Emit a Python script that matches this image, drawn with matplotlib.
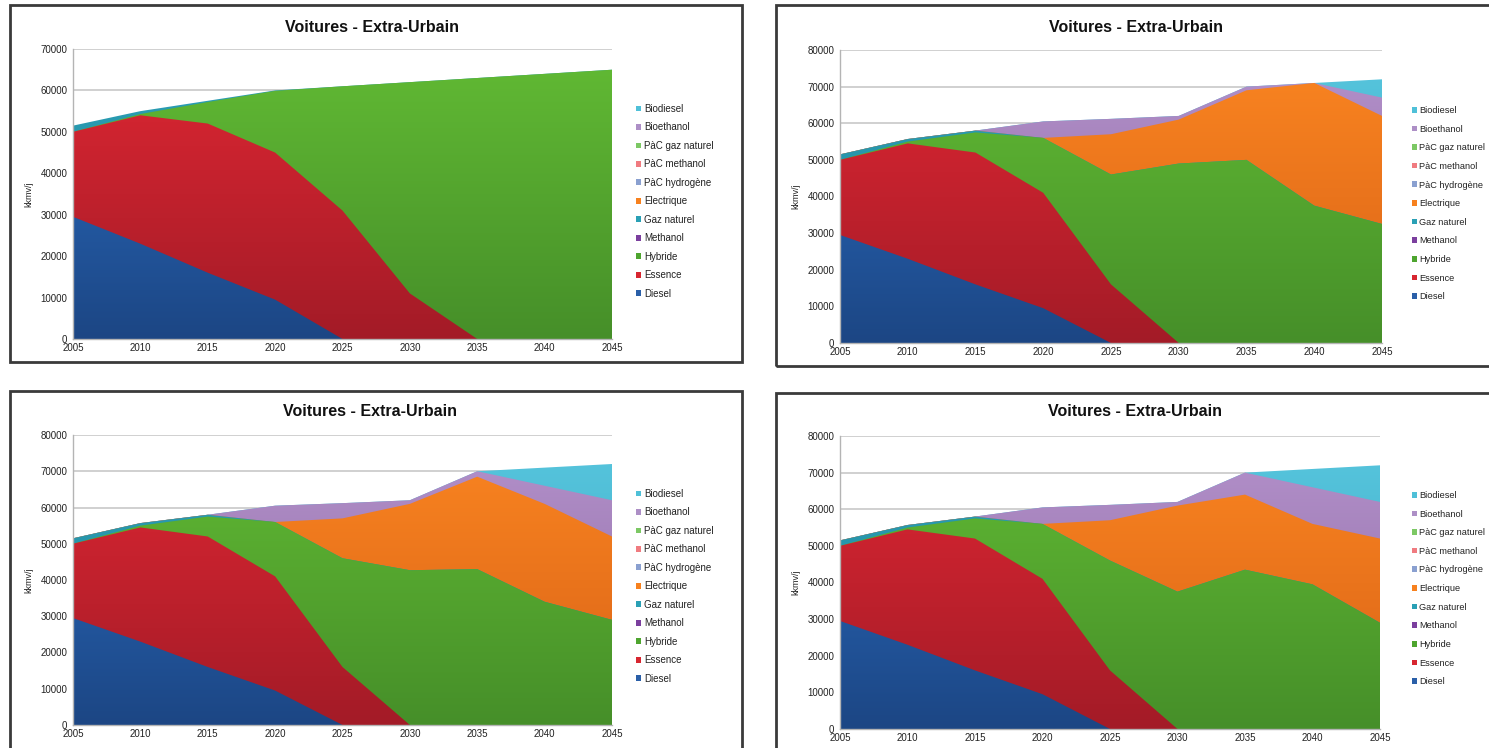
import numpy as np
import matplotlib
matplotlib.use("Agg")
import matplotlib.pyplot as plt
from matplotlib.colors import LinearSegmentedColormap
from matplotlib.patches import Rectangle, Patch

plt.rcParams['font.family'] = ['Liberation Sans', 'DejaVu Sans']

# ---- data (kkmv/j) ----
years = [2005, 2010, 2015, 2020, 2025, 2030, 2035, 2040, 2045]

diesel = [29500, 23000, 16000, 9500, 0, 0, 0, 0, 0]

essence_a = [20500, 31000, 36000, 35500, 31000, 11000, 0, 0, 0]
essence_b = [20500, 31500, 36000, 31500, 16000, 0, 0, 0, 0]

hybride_a = [0, 300, 5200, 14900, 30000, 51000, 63000, 64000, 65000]
hybride_b = [0, 500, 5500, 15000, 30000, 49000, 50000, 37500, 32500]
hybride_c = [0, 500, 5500, 15000, 30000, 42700, 43000, 34000, 29000]
hybride_d = [0, 500, 5500, 15000, 30000, 37500, 43500, 39500, 29000]

methanol = [0, 0, 0, 0, 0, 0, 0, 0, 0]

gaz_naturel_a = [1500, 700, 300, 100, 0, 0, 0, 0, 0]
gaz_naturel_b = [1500, 700, 500, 0, 0, 0, 0, 0, 0]

electrique_a = [0, 0, 0, 0, 0, 0, 0, 0, 0]
electrique_b = [0, 0, 0, 0, 11000, 12000, 19000, 33500, 29500]
electrique_c = [0, 0, 0, 0, 11000, 18300, 25500, 27000, 23000]
electrique_d = [0, 0, 0, 0, 11000, 23500, 20500, 16500, 23000]

pac_hydrogene = [0, 0, 0, 0, 0, 0, 0, 0, 0]
pac_methanol = [0, 0, 0, 0, 0, 0, 0, 0, 0]
pac_gaz_naturel = [0, 0, 0, 0, 0, 0, 0, 0, 0]

bioethanol_a = [0, 0, 0, 0, 0, 0, 0, 0, 0]
bioethanol_b = [0, 0, 0, 4500, 4200, 1000, 1000, 0, 5000]
bioethanol_c = [0, 0, 0, 4500, 4200, 1000, 1500, 5000, 10000]
bioethanol_d = [0, 0, 0, 4500, 4200, 1000, 6000, 10000, 10000]

biodiesel_a = [0, 0, 0, 0, 0, 0, 0, 0, 0]
biodiesel_b = [0, 0, 0, 0, 0, 0, 0, 0, 5000]
biodiesel_c = [0, 0, 0, 0, 0, 0, 0, 5000, 10000]
biodiesel_d = [0, 0, 0, 0, 0, 0, 0, 5000, 10000]

series_names = ["Diesel", "Essence", "Hybride", "Methanol", "Gaz naturel",
                "Electrique", "PàC hydrogène", "PàC methanol",
                "PàC gaz naturel", "Bioethanol", "Biodiesel"]

# (top colour, bottom colour) of the vertical gradient of each series
series_colors = {
    "Diesel": ("#2c70c6", "#1c4684"),
    "Essence": ("#df2733", "#a31b27"),
    "Hybride": ("#62bb34", "#468f29"),
    "Methanol": ("#7b3fa0", "#5f2f7d"),
    "Gaz naturel": ("#2ca2b8", "#1f8298"),
    "Electrique": ("#fb8621", "#d96217"),
    "PàC hydrogène": ("#86a3d4", "#6a86b6"),
    "PàC methanol": ("#f07d80", "#d26065"),
    "PàC gaz naturel": ("#8ad268", "#6cb04d"),
    "Bioethanol": ("#b592cc", "#8b6aa2"),
    "Biodiesel": ("#57c6de", "#3ea8c2"),
}
legend_colors = {
    "Biodiesel": "#4fc0d8", "Bioethanol": "#ad8fc6", "PàC gaz naturel": "#7cc864",
    "PàC methanol": "#f07b80", "PàC hydrogène": "#8aa0d0", "Electrique": "#f7811e",
    "Gaz naturel": "#2aa0b5", "Methanol": "#7b3f9e", "Hybride": "#4ea52f",
    "Essence": "#d72630", "Diesel": "#2a5fa8",
}

panels = [
    dict(ymax=70000,
         data=[diesel, essence_a, hybride_a, methanol, gaz_naturel_a, electrique_a,
               pac_hydrogene, pac_methanol, pac_gaz_naturel, bioethanol_a, biodiesel_a],
         ax_px=(73, 612, 49, 339), frame_px=(10, 5, 742, 362),
         title_px=(372, 27), legend_px=(636, 104), legend_fs=7, legend_ls=0.87),
    dict(ymax=80000,
         data=[diesel, essence_b, hybride_b, methanol, gaz_naturel_b, electrique_b,
               pac_hydrogene, pac_methanol, pac_gaz_naturel, bioethanol_b, biodiesel_b],
         ax_px=(840, 1382, 50, 343), frame_px=(776, 5, 1500, 366),
         title_px=(1136, 27), legend_px=(1412, 106), legend_fs=6.6, legend_ls=1.05),
    dict(ymax=80000,
         data=[diesel, essence_b, hybride_c, methanol, gaz_naturel_b, electrique_c,
               pac_hydrogene, pac_methanol, pac_gaz_naturel, bioethanol_c, biodiesel_c],
         ax_px=(73, 612, 435, 725), frame_px=(10, 391, 742, 760),
         title_px=(370, 412), legend_px=(636, 489), legend_fs=7, legend_ls=0.87),
    dict(ymax=80000,
         data=[diesel, essence_b, hybride_d, methanol, gaz_naturel_b, electrique_d,
               pac_hydrogene, pac_methanol, pac_gaz_naturel, bioethanol_d, biodiesel_d],
         ax_px=(840, 1380, 436, 729), frame_px=(776, 393, 1500, 760),
         title_px=(1135, 412), legend_px=(1412, 491), legend_fs=6.6, legend_ls=1.05),
]

W, H = 1489, 748
fig = plt.figure(figsize=(W / 100, H / 100), dpi=100)
fig.patch.set_facecolor("white")


def fx(px):
    return px / W


def fy(py):
    return 1 - py / H


for p in panels:
    l, r, t, b = p["ax_px"]
    ax = fig.add_axes([fx(l), fy(b), fx(r - l), (b - t) / H])
    ymax = p["ymax"]
    x = np.array(years, dtype=float)
    cum = np.cumsum(np.array(p["data"], dtype=float), axis=0)

    # draw from the topmost series down, each filled from zero to its
    # cumulative top, so lower series cover the upper ones without seams
    for i in range(len(series_names) - 1, -1, -1):
        name = series_names[i]
        if np.all(np.array(p["data"][i]) == 0):
            continue
        top = cum[i]
        poly = ax.fill_between(x, 0, top, facecolor="none", lw=0)
        c_top, c_bot = series_colors[name]
        cmap = LinearSegmentedColormap.from_list(name, [c_bot, c_top])
        grad = np.linspace(0, 1, 256).reshape(-1, 1)
        im = ax.imshow(grad, extent=[x[0], x[-1], 0, ymax], origin="lower",
                       aspect="auto", cmap=cmap, interpolation="bilinear",
                       zorder=2 + (len(series_names) - i) * 0.01)
        im.set_clip_path(poly.get_paths()[0], transform=ax.transData)

    ax.set_xlim(years[0], years[-1])
    ax.set_ylim(0, ymax)
    ax.set_xticks(years)
    ax.set_yticks(np.arange(0, ymax + 1, 10000))
    ax.yaxis.grid(True, color="#c8c8c8", lw=1.2, zorder=1)
    ax.set_axisbelow(True)
    for s in ("top", "right"):
        ax.spines[s].set_visible(False)
    for s in ("left", "bottom"):
        ax.spines[s].set_color("#b4b4b4")
        ax.spines[s].set_linewidth(1.0)
    ax.tick_params(length=0, labelsize=7, colors="#222222", pad=4)
    ax.tick_params(axis="x", pad=3)
    ax.set_ylabel("kkmv/j", fontsize=6.5, color="#222222")
    ax.yaxis.set_label_coords(-40 / (r - l), 0.5)

    # panel frame
    fl, ft, fr, fb = p["frame_px"]
    fig.patches.append(Rectangle((fx(fl), fy(fb)), fx(fr - fl), (fb - ft) / H,
                                 transform=fig.transFigure, fill=False,
                                 edgecolor="#3a3a3a", lw=2.0, clip_on=False))

    # title
    tx, ty = p["title_px"]
    fig.text(fx(tx), fy(ty), "Voitures - Extra-Urbain", ha="center", va="center",
             fontsize=11.5, fontweight="bold", color="#111111")

    # legend, top entry first
    handles = [Patch(facecolor=legend_colors[n], edgecolor="none", label=n)
               for n in reversed(series_names)]
    lx, ly = p["legend_px"]
    fig.legend(handles=handles, loc="upper left",
               bbox_to_anchor=(fx(lx), fy(ly)), bbox_transform=fig.transFigure,
               frameon=False, fontsize=p["legend_fs"], handlelength=0.55,
               handleheight=0.55, handletextpad=0.25,
               labelspacing=p["legend_ls"], borderpad=0,
               borderaxespad=0, labelcolor="#222222")

fig.savefig("out.png", dpi=100, facecolor="white")
